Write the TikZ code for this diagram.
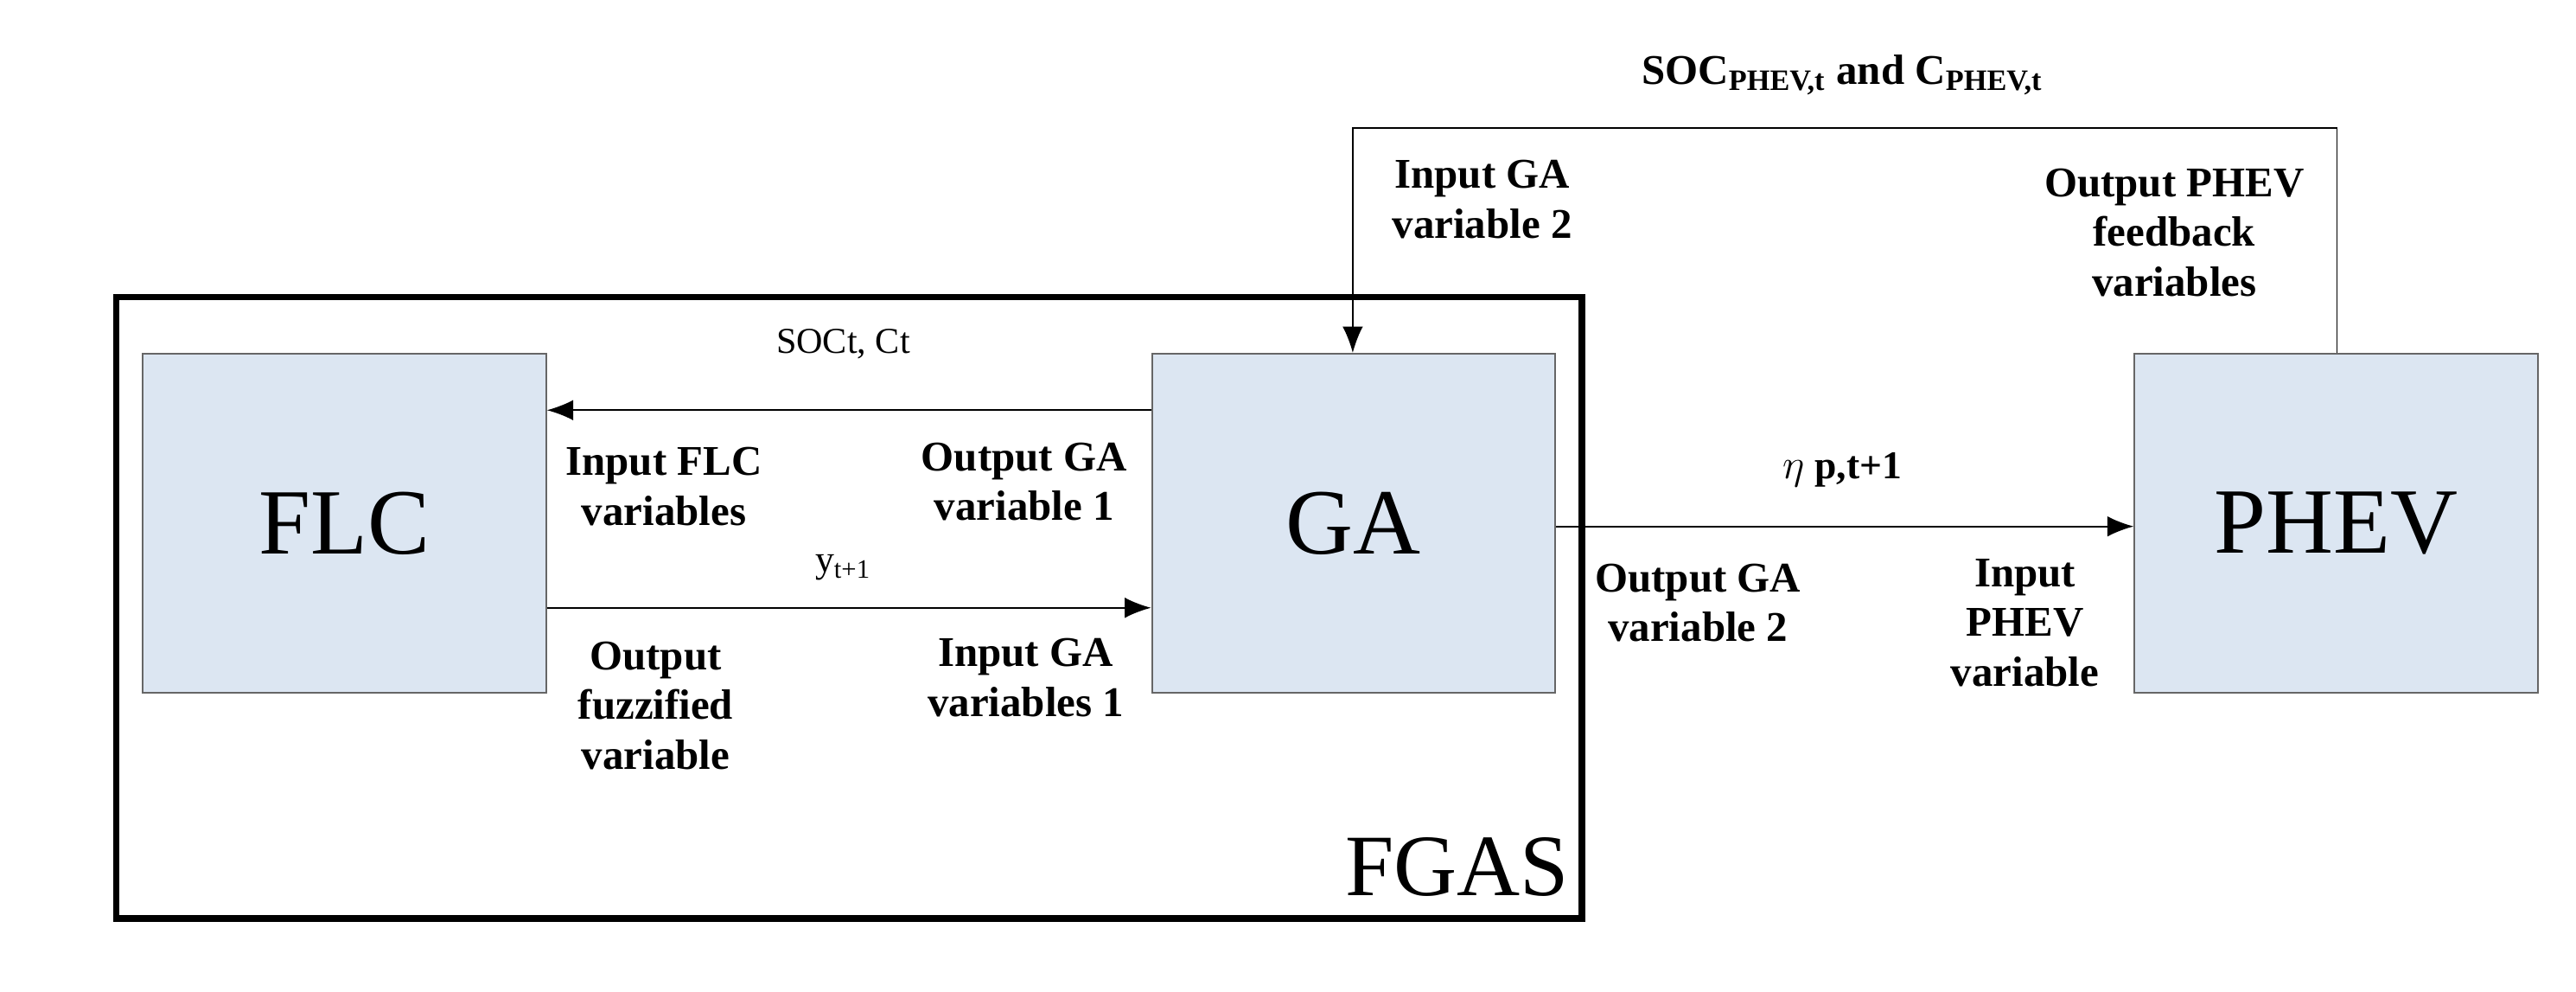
\documentclass[tikz,border=0pt]{standalone}
\usepackage{fontspec}
\setmainfont{Liberation Serif}
\usetikzlibrary{arrows.meta}
\definecolor{boxfill}{HTML}{DCE6F2}
\begin{document}
\begin{tikzpicture}[x=0.02cm,y=-0.02cm,
 blk/.style={draw=black!60,fill=boxfill,line width=0.6pt,minimum width=243*0.02cm,minimum height=204*0.02cm,inner sep=0pt,font=\fontsize{32}{36}\selectfont},
 lab/.style={font=\fontsize{14.5}{17}\selectfont\bfseries,align=center},
 arr/.style={-{Latex[length=9pt,width=7pt]},line width=0.5pt}]
\useasboundingbox (0,0) rectangle (1552,597);
\node[draw,line width=2.2pt,minimum width=883*0.02cm,minimum height=374*0.02cm] (fgas) at (511.5,366) {};
\node[font=\fontsize{30}{34}\selectfont] (fgasl) at (878,522) {FGAS};
\node[blk] (flc) at (207.5,315) {FLC};
\node[blk] (ga) at (815.5,315) {GA};
\node[blk] (phev) at (1407.5,315) {PHEV};
\coordinate (c1) at (1408,77);
\coordinate (c2) at (815,77);
\draw[arr] (ga.west|-0,247) -- (flc.east|-0,247);
\draw[arr] (flc.east|-0,366) -- (ga.west|-0,366);
\draw[arr] (ga.east|-0,317) -- (phev.west|-0,317);
\draw[arr] (phev.north-|c1) -- (c1) -- (c2) -- (ga.north-|c2);
\node[font=\fontsize{12.5}{15}\selectfont] (l1) at (508,207) {SOCt, Ct};
\node[font=\fontsize{13}{15}\selectfont] (l2) at (508,342) {y\textsubscript{t+1}};
\node[lab] (l3) at (400,293) {Input FLC\\variables};
\node[lab] (l4) at (617,290) {Output GA\\variable 1};
\node[lab] (l5) at (395,425) {Output\\fuzzified\\variable};
\node[lab] (l6) at (618,408) {Input GA\\variables 1};
\node[font=\fontsize{13.5}{15}\selectfont\bfseries] (l7) at (1110,283) {$\eta$ p,t+1};
\node[lab] (l8) at (1023,363) {Output GA\\variable 2};
\node[lab] (l9) at (1220,375) {Input\\PHEV\\variable};
\node[lab] (l10) at (1110,45) {SOC\textsubscript{PHEV,t} and C\textsubscript{PHEV,t}};
\node[lab] (l11) at (893,120) {Input GA\\variable 2};
\node[lab] (l12) at (1310,140) {Output PHEV\\feedback\\variables};
\end{tikzpicture}
\end{document}
